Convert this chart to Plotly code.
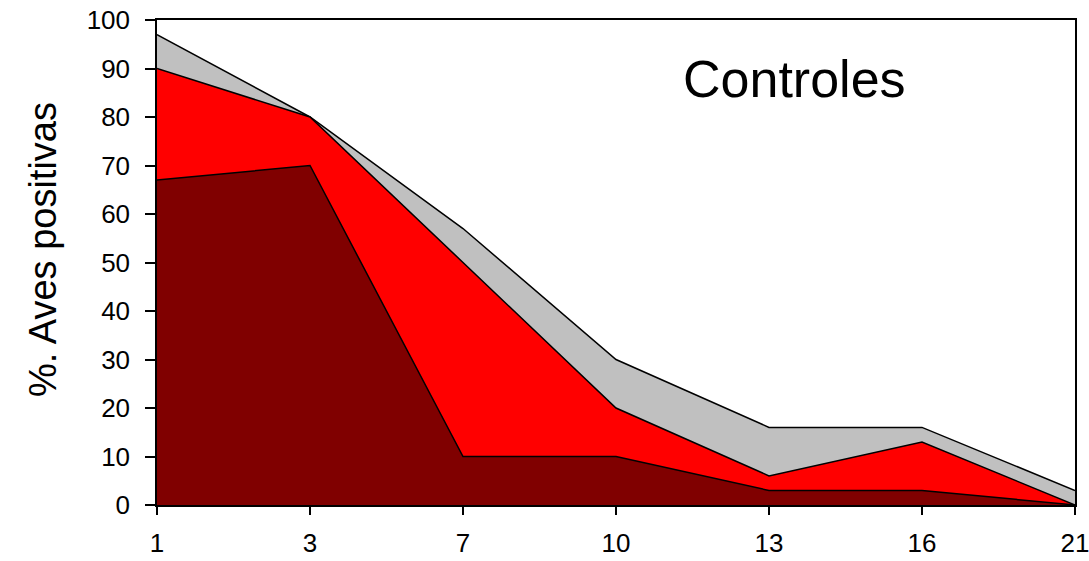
import plotly.graph_objects as go

days = ["1", "3", "7", "10", "13", "16", "21"]
gray_vals = [97, 80, 57, 30, 16, 16, 3]
red_vals = [90, 80, 50, 20, 6, 13, 0]
dark_vals = [67, 70, 10, 10, 3, 3, 0]

xs = list(range(len(days)))

fig = go.Figure()
for vals, col in [(gray_vals, "#C0C0C0"), (red_vals, "#FF0000"), (dark_vals, "#800000")]:
    fig.add_trace(go.Scatter(x=xs, y=vals, mode="lines", fill="tozeroy",
                             fillcolor=col, line=dict(color="black", width=1.5),
                             showlegend=False, hoverinfo="skip"))

font = "Liberation Sans, Arial, sans-serif"
fig.update_layout(
    width=1089, height=561,
    margin=dict(l=157, r=14, t=20, b=56),
    plot_bgcolor="white", paper_bgcolor="white",
    font=dict(family=font, color="black", size=26),
    xaxis=dict(range=[0, 6], tickvals=xs, ticktext=days, showgrid=False, zeroline=False,
               showline=True, linecolor="black", linewidth=1.5, mirror=True,
               ticks="outside", ticklen=8, tickcolor="black", tickwidth=1.5,
               ticklabelstandoff=6, ticklabeloverflow="allow", automargin=False,
               tickfont=dict(size=26, family=font)),
    yaxis=dict(range=[0, 100], tickvals=list(range(0, 101, 10)), showgrid=False, zeroline=False,
               showline=True, linecolor="black", linewidth=1.5, mirror=True,
               ticks="outside", ticklen=10, tickcolor="black", tickwidth=1.5,
               ticklabelstandoff=10, ticklabeloverflow="allow", automargin=False,
               tickfont=dict(size=26, family=font)),
    annotations=[
        dict(text="Controles", x=(794 - 157) / 918, y=(505 - 79) / 485, xref="paper", yref="paper",
             showarrow=False, font=dict(size=52, family=font), xanchor="center", yanchor="middle"),
        dict(text="%. Aves positivas", x=(43 - 157) / 918, y=(505 - 250) / 485, xref="paper", yref="paper",
             showarrow=False, textangle=-90, font=dict(size=38, family=font),
             xanchor="center", yanchor="middle"),
    ],
)

fig.write_html("out.html", config={"displayModeBar": False},
               post_script="document.body.style.margin='0';")
